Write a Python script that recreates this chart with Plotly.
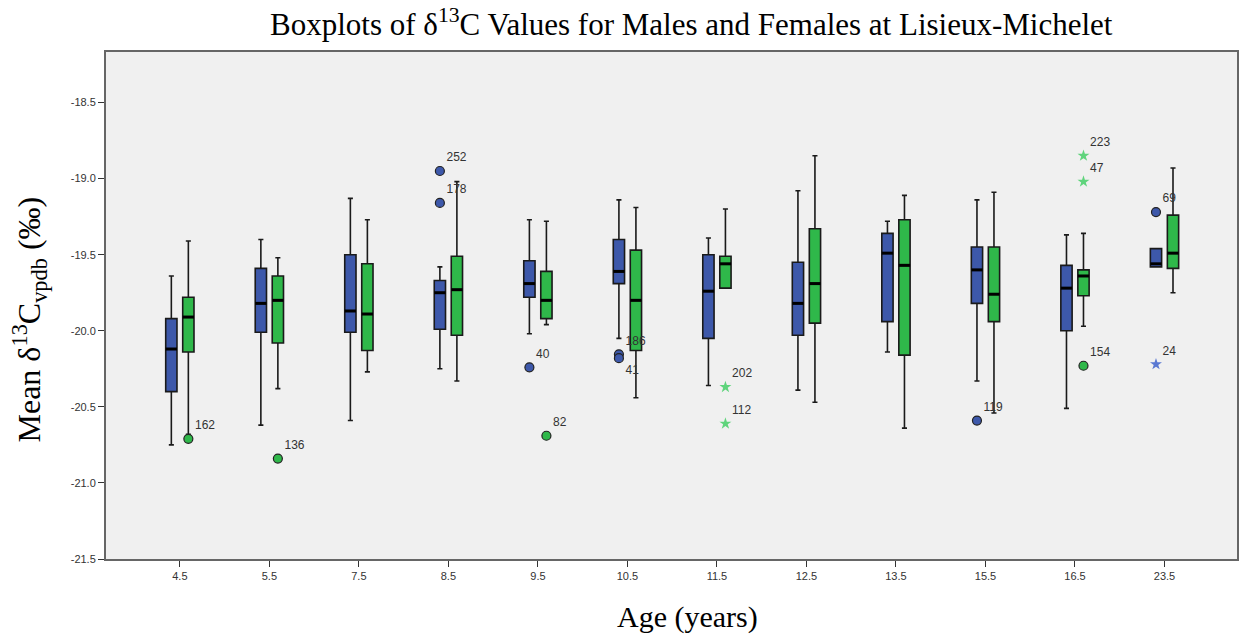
import plotly.graph_objects as go

ages = ["4.5", "5.5", "7.5", "8.5", "9.5", "10.5", "11.5", "12.5", "13.5", "15.5", "16.5", "23.5"]

male_lower = [-20.75, -20.62, -20.59, -20.25, -20.02, -20.05, -20.36, -20.39, -20.14, -20.33, -20.51, -19.58]
male_q1 = [-20.40, -20.01, -20.01, -19.99, -19.78, -19.69, -20.05, -20.03, -19.94, -19.82, -20.00, -19.58]
male_median = [-20.12, -19.82, -19.87, -19.75, -19.69, -19.61, -19.74, -19.82, -19.49, -19.60, -19.72, -19.56]
male_q3 = [-19.92, -19.59, -19.50, -19.67, -19.54, -19.40, -19.50, -19.55, -19.36, -19.45, -19.57, -19.46]
male_upper = [-19.64, -19.40, -19.13, -19.58, -19.27, -19.14, -19.39, -19.08, -19.28, -19.14, -19.37, -19.46]

female_lower = [-20.68, -20.38, -20.27, -20.33, -19.96, -20.44, -19.72, -20.47, -20.64, -20.54, -19.97, -19.75]
female_q1 = [-20.14, -20.08, -20.13, -20.03, -19.92, -20.13, -19.72, -19.95, -20.16, -19.94, -19.77, -19.59]
female_median = [-19.91, -19.80, -19.89, -19.73, -19.80, -19.80, -19.56, -19.69, -19.57, -19.76, -19.64, -19.49]
female_q3 = [-19.78, -19.64, -19.56, -19.51, -19.61, -19.47, -19.51, -19.33, -19.27, -19.45, -19.60, -19.24]
female_upper = [-19.41, -19.52, -19.27, -19.02, -19.28, -19.19, -19.20, -18.85, -19.11, -19.09, -19.36, -18.93]

male_out_age = ["8.5", "8.5", "9.5", "10.5", "10.5", "15.5", "23.5", "23.5"]
male_out_val = [-18.95, -19.16, -20.24, -20.155, -20.18, -20.59, -19.22, -20.22]
male_out_id = ["252", "178", "40", "186", "41", "119", "69", "24"]
male_out_kind = ["circle", "circle", "circle", "circle", "circle", "circle", "circle", "star"]
male_out_textpos = ["top right", "top right", "top right", "top right", "bottom right", "top right", "top right", "top right"]

female_out_age = ["4.5", "5.5", "9.5", "11.5", "11.5", "16.5", "16.5", "16.5"]
female_out_val = [-20.71, -20.84, -20.69, -20.37, -20.61, -18.85, -19.02, -20.23]
female_out_id = ["162", "136", "82", "202", "112", "223", "47", "154"]
female_out_kind = ["circle", "circle", "circle", "star", "star", "star", "star", "circle"]
female_out_textpos = ["top right"] * 8

y_ticks = [-18.5, -19.0, -19.5, -20.0, -20.5, -21.0, -21.5]

BLUE = "#3d58aa"
GREEN = "#2fb84a"
BLUE_STAR = "#5a78d2"
GREEN_STAR = "#5fd47c"
OFFSET = 0.095
BOXW = 0.126

idx = {a: i for i, a in enumerate(ages)}

fig = go.Figure()


def add_group(sign, lower, q1, med, q3, upper, fill):
    xs = [i + sign * OFFSET for i in range(len(ages))]
    fig.add_trace(go.Box(
        x=xs, q1=q1, median=med, q3=q3, lowerfence=lower, upperfence=upper,
        width=BOXW, whiskerwidth=0.45, fillcolor=fill,
        line=dict(color="#1a1a1a", width=1.6), boxpoints=False,
        showlegend=False, hoverinfo="skip",
    ))
    mx, my = [], []
    for x, m in zip(xs, med):
        mx += [x - BOXW / 2, x + BOXW / 2, None]
        my += [m, m, None]
    fig.add_trace(go.Scatter(x=mx, y=my, mode="lines",
                             line=dict(color="black", width=3),
                             showlegend=False, hoverinfo="skip"))


def add_outliers(sign, o_age, o_val, o_id, o_kind, o_pos, fill, star_color):
    xs = [idx[a] + sign * OFFSET for a in o_age]
    symbols = ["circle" if k == "circle" else "star" for k in o_kind]
    colors = [fill if k == "circle" else star_color for k in o_kind]
    lw = [1.2 if k == "circle" else 0 for k in o_kind]
    fig.add_trace(go.Scatter(
        x=xs, y=o_val, mode="markers+text", text=o_id, textposition=o_pos,
        textfont=dict(family="Liberation Sans, Arial", size=12, color="#333333"),
        marker=dict(symbol=symbols, color=colors, size=9, opacity=1,
                    line=dict(color="#222222", width=lw)),
        showlegend=False, hoverinfo="skip", cliponaxis=False,
    ))


add_group(-1, male_lower, male_q1, male_median, male_q3, male_upper, BLUE)
add_group(1, female_lower, female_q1, female_median, female_q3, female_upper, GREEN)
add_outliers(-1, male_out_age, male_out_val, male_out_id, male_out_kind, male_out_textpos, BLUE, BLUE_STAR)
add_outliers(1, female_out_age, female_out_val, female_out_id, female_out_kind, female_out_textpos, GREEN, GREEN_STAR)

fig.update_layout(
    width=1241, height=637,
    margin=dict(l=106, r=2, t=52, b=78),
    paper_bgcolor="white", plot_bgcolor="#f0f0f0",
    title=dict(text="Boxplots of δ<sup>13</sup>C Values for Males and Females at Lisieux-Michelet",
               x=0.557, xanchor="center", y=0.962, yanchor="middle",
               font=dict(family="Liberation Serif, Times New Roman", size=31, color="black")),
    showlegend=False,
)
fig.update_xaxes(
    range=[-0.825, 11.81], tickmode="array", tickvals=list(range(len(ages))), ticktext=ages,
    ticks="outside", ticklen=6, tickcolor="#333", tickwidth=1,
    showgrid=False, zeroline=False,
    showline=True, linecolor="#666666", linewidth=2, mirror=True,
    tickfont=dict(family="Liberation Sans, Arial", size=11, color="#333333"),
)
fig.update_yaxes(
    range=[-21.5, -18.168], tickmode="array", tickvals=y_ticks,
    ticktext=[f"{v:.1f}" for v in y_ticks],
    ticks="outside", ticklen=6, tickcolor="#333", tickwidth=1,
    showgrid=False, zeroline=False,
    showline=True, linecolor="#666666", linewidth=2, mirror=True,
    tickfont=dict(family="Liberation Sans, Arial", size=11, color="#333333"),
)
fig.add_annotation(
    text="Mean δ<sup>13</sup>C<sub>vpdb</sub> (‰)", xref="paper", yref="paper",
    x=0, y=0.5, xanchor="center", yanchor="middle", xshift=-77, yshift=-14,
    textangle=-90, showarrow=False,
    font=dict(family="Liberation Serif, Times New Roman", size=32, color="black"),
)
fig.add_annotation(
    text="Age (years)", xref="paper", yref="paper",
    x=0.5, y=0, xanchor="center", yanchor="middle", xshift=16, yshift=-58,
    showarrow=False,
    font=dict(family="Liberation Serif, Times New Roman", size=30, color="black"),
)

fig.write_html("out.html")
